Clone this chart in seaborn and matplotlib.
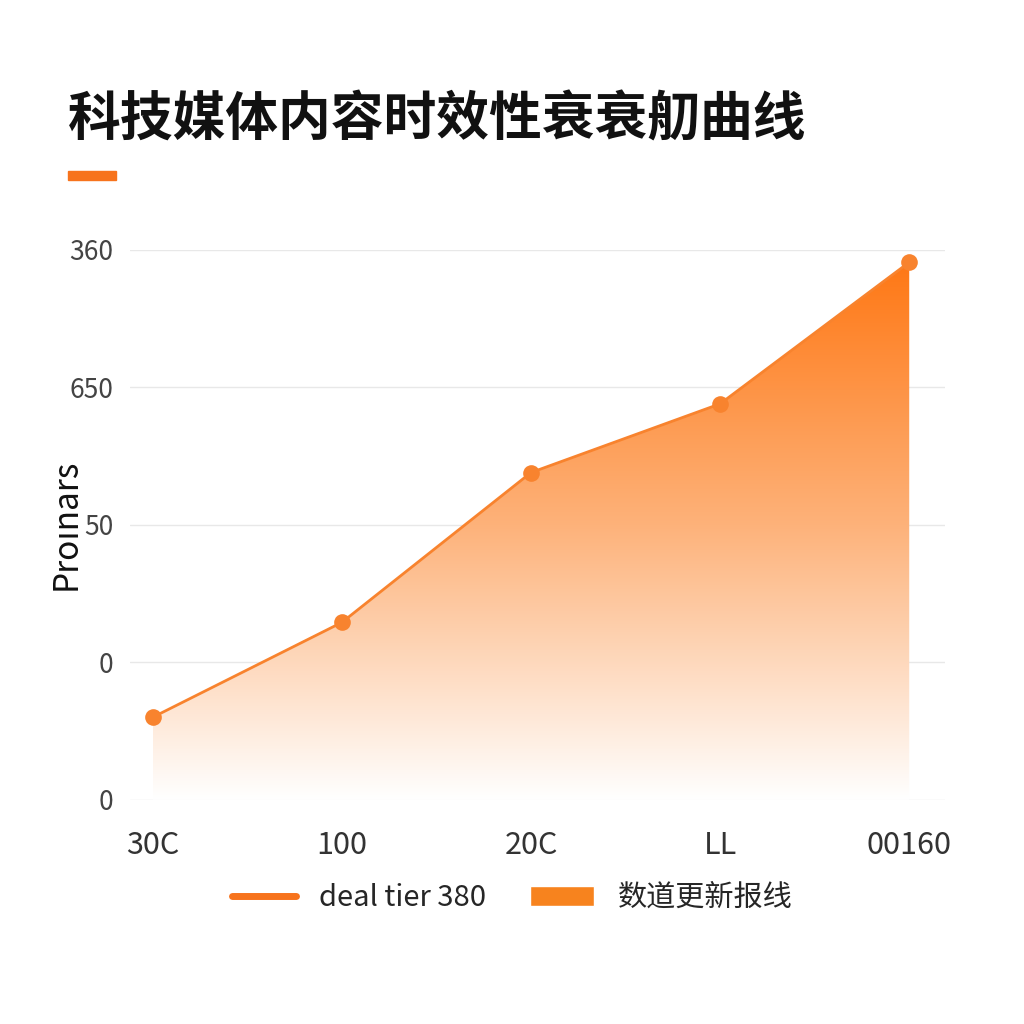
import matplotlib
matplotlib.use("Agg")
import matplotlib.pyplot as plt
import seaborn as sns
import numpy as np
import pandas as pd
from matplotlib.patches import Polygon, Patch
from matplotlib.lines import Line2D
from matplotlib.colors import LinearSegmentedColormap

categories = ["30C", "100", "20C", "LL", "00160"]
values = [60, 129, 238, 288, 391]
ytick_vals = [0, 100, 200, 300, 400]
ytick_labels = ["0", "0", "50", "650", "360"]
title = "科技媒体内容时效性衰衰舠曲线"
ylabel = "Proınars"
legend_line = "deal tier 380"
legend_patch = "数道更新报线"

sns.set_theme(style="white")
plt.rcParams['font.family'] = ['Noto Sans CJK SC', 'DejaVu Sans']

fig = plt.figure(figsize=(10.24, 10.24), dpi=100)
ax = fig.add_axes([0.127, 0.219, 0.796, 0.537])
df = pd.DataFrame({"x": np.arange(len(categories)), "y": values})

# gradient fill
xs = df["x"].to_numpy(); ys = df["y"].to_numpy()
cmap = LinearSegmentedColormap.from_list("g", ["#ffffff", "#fdb27a", "#ff7510"])
grad = np.linspace(0, 1, 256).reshape(-1, 1)
im = ax.imshow(grad, extent=[xs[0], xs[-1], 0, 400], origin="lower", aspect="auto",
               cmap=cmap, zorder=1)
poly = Polygon(np.column_stack([np.r_[xs[0], xs, xs[-1]], np.r_[0, ys, 0]]), closed=True,
               transform=ax.transData, facecolor="none", edgecolor="none")
ax.add_patch(poly)
im.set_clip_path(poly)

sns.lineplot(data=df, x="x", y="y", ax=ax, color="#f8832e", linewidth=2, marker="o",
             markersize=12, markeredgewidth=0, zorder=3)

ax.set_xlim(-0.12, 4.19)
ax.set_ylim(0, 400)
ax.set_yticks(ytick_vals)
ax.set_yticklabels(ytick_labels, fontsize=19, color="#444444")
ax.set_xticks(xs)
ax.set_xticklabels(categories, fontsize=22, color="#333333")
ax.tick_params(axis="x", pad=22, length=0)
ax.tick_params(axis="y", pad=12, length=0)
ax.grid(axis="y", color="#e8e8e8", linewidth=1)
ax.set_axisbelow(True)
for s in ax.spines.values():
    s.set_visible(False)
ax.set_xlabel("")
ax.set_ylabel(ylabel, fontsize=24, color="#111111", labelpad=-10)

fig.text(0.066, 0.883, title, fontsize=38, fontweight="bold", color="#111111", va="center")
fig.patches.append(plt.Rectangle((0.066, 0.824), 0.047, 0.009, transform=fig.transFigure,
                                 color="#f7731c"))

handles = [Line2D([0], [0], color="#f7731c", linewidth=5),
           Patch(facecolor="#f7831e")]
fig.legend(handles, [legend_line, legend_patch], loc="center", bbox_to_anchor=(0.5, 0.123),
           ncol=2, frameon=False, fontsize=21, handlelength=2.2, columnspacing=1.5)

fig.savefig("out.png", dpi=100, facecolor="white")
